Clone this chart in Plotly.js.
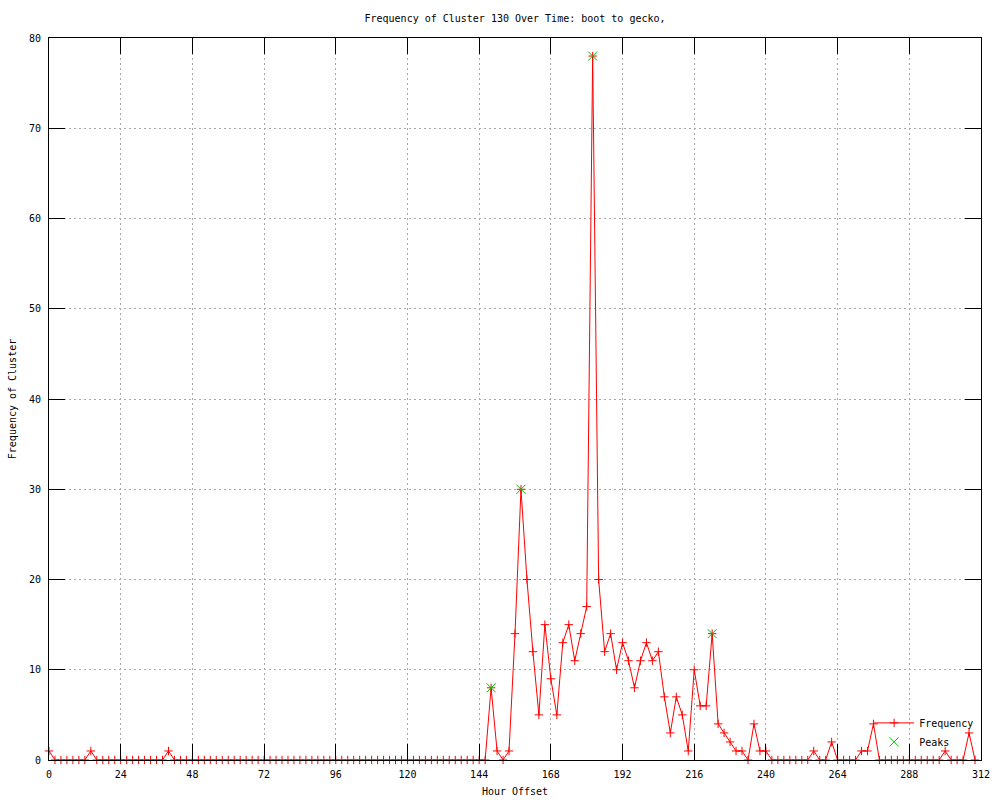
<!DOCTYPE html>
<html>
<head>
<meta charset="utf-8">
<script src="https://cdn.plot.ly/plotly-3.0.1.min.js"></script>
<style>html,body{margin:0;padding:0;background:#fff;}#chart{width:1000px;height:800px;}</style>
</head>
<body>
<div id="chart"></div>
<script>
// Hour offsets (x) and cluster frequency (y)
var hours = [0,2,4,6,8,10,12,14,16,18,20,22,24,26,28,30,32,34,36,38,40,42,44,46,48,50,52,54,56,58,60,62,64,66,68,70,72,74,76,78,80,82,84,86,88,90,92,94,96,98,100,102,104,106,108,110,112,114,116,118,120,122,124,126,128,130,132,134,136,138,140,142,144,146,148,150,152,154,156,158,160,162,164,166,168,170,172,174,176,178,180,182,184,186,188,190,192,194,196,198,200,202,204,206,208,210,212,214,216,218,220,222,224,226,228,230,232,234,236,238,240,242,244,246,248,250,252,254,256,258,260,262,264,266,268,270,272,274,276,278,280,282,284,286,288,290,292,294,296,298,300,302,304,306,308,310];
var frequency = [1,0,0,0,0,0,0,1,0,0,0,0,0,0,0,0,0,0,0,0,1,
  0,0,0,0,0,0,0,0,0,0,0,0,0,0,0,0,0,0,0,0,0,0,0,0,0,0,0,0,0,0,0,0,0,0,0,0,0,0,0,0,0,0,0,0,0,0,0,0,0,0,0,0,0,
  8,1,0,1,14,30,20,12,5,15,9,5,13,15,11,14,17,78,20,12,14,10,13,11,8,11,13,11,12,7,3,7,5,1,10,6,6,14,4,3,2,1,1,0,4,1,1,
  0,0,0,0,0,0,0,1,0,0,2,0,0,0,0,1,1,4,0,0,0,0,0,0,0,0,0,0,0,1,0,0,0,3,0];
var peakHours = [148,158,182,222];
var peakValues = [8,30,78,14];
var xTicks = [0,24,48,72,96,120,144,168,192,216,240,264,288,312];
var yTicks = [0,10,20,30,40,50,60,70,80];

var mono = "DejaVu Sans Mono, monospace";
var traces = [
  {
    x: hours, y: frequency, name: "Frequency", type: "scatter", mode: "lines+markers",
    line: {color: "#ff0000", width: 1},
    marker: {symbol: "cross-thin-open", size: 6, line: {color: "#ff0000", width: 1}, color: "#ff0000"},
    cliponaxis: false
  },
  {
    x: peakHours, y: peakValues, name: "Peaks", type: "scatter", mode: "markers",
    marker: {symbol: "x-thin-open", size: 9, line: {color: "#00c000", width: 1}, color: "#00c000"},
    cliponaxis: false
  }
];

var axisCommon = {
  showline: true, linecolor: "#000", linewidth: 1, mirror: "allticks",
  ticks: "inside", ticklen: 16, tickcolor: "#000", tickwidth: 1,
  showgrid: true, gridcolor: "#a8a8a8", griddash: "2px,3px", gridwidth: 1,
  zeroline: false, tickfont: {family: mono, size: 10, color: "#000"},
  ticklabelstandoff: 5
};

var layout = {
  width: 1000, height: 800,
  paper_bgcolor: "#fff", plot_bgcolor: "#fff",
  margin: {l: 49, r: 19, t: 38, b: 40, pad: 0},
  font: {family: mono, size: 10, color: "#000"},
  title: {text: "Frequency of Cluster 130 Over Time: boot to gecko,", font: {family: mono, size: 10, color: "#000"},
          x: 0.5, xref: "paper", xanchor: "center", y: 1 - 18/800, yref: "container", yanchor: "middle"},
  xaxis: Object.assign({}, axisCommon, {
    range: [0, 312], tickmode: "array", tickvals: xTicks, ticktext: xTicks.map(String),
    title: {text: "Hour Offset", font: {family: mono, size: 10, color: "#000"}, standoff: 8}
  }),
  yaxis: Object.assign({}, axisCommon, {
    range: [0, 80], tickmode: "array", tickvals: yTicks, ticktext: yTicks.map(String),
    title: {text: "Frequency of Cluster", font: {family: mono, size: 10, color: "#000"}, standoff: 10}
  }),
  showlegend: true,
  legend: {x: 0.998, xanchor: "right", y: 0.005, yanchor: "bottom", bgcolor: "rgba(0,0,0,0)",
           font: {family: mono, size: 10, color: "#000"}, tracegroupgap: 0, itemwidth: 40}
};

Plotly.newPlot("chart", traces, layout, {displayModeBar: false, staticPlot: true});
</script>
</body>
</html>
